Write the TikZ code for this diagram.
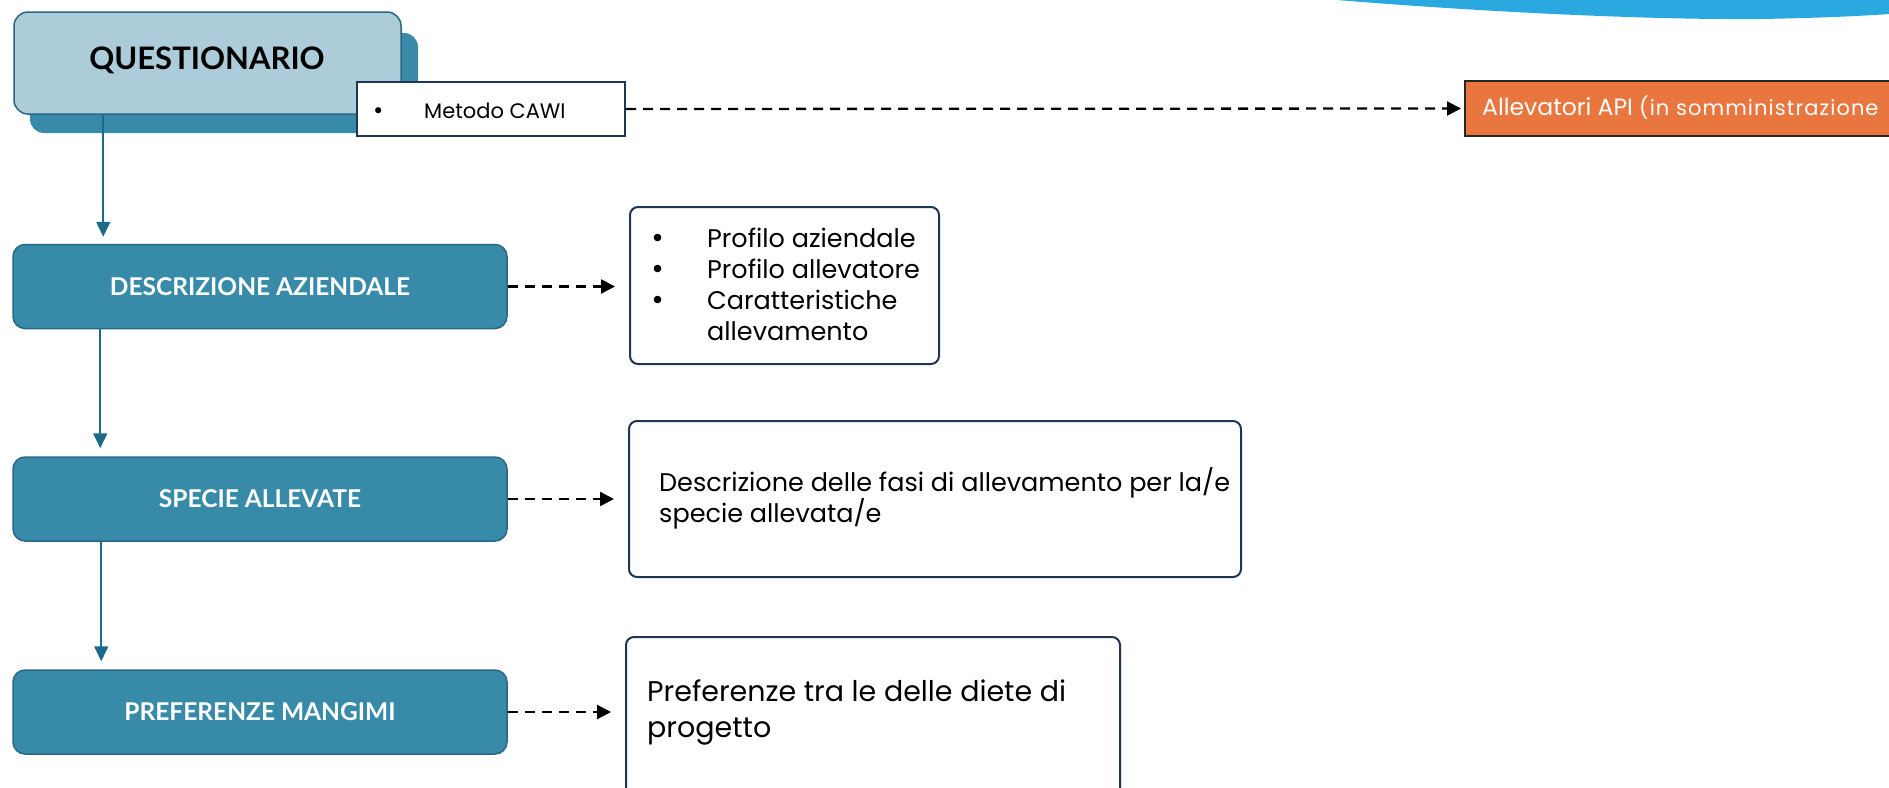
\documentclass[tikz,border=0pt]{standalone}
\usepackage{fontspec}
\setmainfont{Poppins}
\newfontfamily\capsfont{Lato}
\newfontfamily\symfont{DejaVu Sans}
\usetikzlibrary{arrows.meta}
\definecolor{lightbox}{HTML}{ABCCD8}
\definecolor{mainbox}{HTML}{378BA9}
\definecolor{boxedge}{HTML}{2A6786}
\definecolor{arrowblue}{HTML}{1B6A8C}
\definecolor{navy}{HTML}{1F3553}
\definecolor{orangebox}{HTML}{E8763E}
\definecolor{arcblue}{HTML}{29A9E0}
\newcommand{\bul}{{\symfont •}}
\newcommand{\bitem}{\makebox[57pt][l]{\bul}}
\tikzset{
  mainstep/.style={draw=boxedge, line width=1.5pt, fill=mainbox, rounded corners=12pt,
    minimum width=494pt, minimum height=84pt, inner sep=0pt, text=white,
    font=\capsfont\bfseries\fontsize{24.5}{28}\selectfont},
  infobox/.style={draw=navy, line width=2pt, fill=white, rounded corners=8pt, inner sep=0pt,
    anchor=north west},
  vline/.style={draw=arrowblue, line width=1.6pt, -{Triangle[length=15pt,width=14pt]}},
  dline/.style={draw=black, line width=2.3pt, dash pattern=on 10pt off 7pt,
    -{Triangle[length=14pt,width=14pt]}},
  bodytext/.style={font=\fontsize{25.5}{31}\selectfont, text=black},
}
\begin{document}
\begin{tikzpicture}[x=1pt,y=-1pt]
\useasboundingbox (0,0) rectangle (1889,787);
\clip (0,0) rectangle (1889,787);
% top-right arc
\fill[arcblue] (1325,-1) .. controls (1480,12) and (1650,20) .. (1760,19)
  .. controls (1820,18) and (1860,16) .. (1890,14) -- (1890,-1) -- cycle;
% QUESTIONARIO with shadow
\fill[mainbox, rounded corners=14pt] (30,33) rectangle (418,133);
\node[draw=boxedge, line width=1.5pt, fill=lightbox, rounded corners=14pt,
  minimum width=387pt, minimum height=102pt, inner sep=0pt] (q) at (207.5,63) {};
\node[font=\capsfont\bfseries\fontsize{31}{36}\selectfont] (qt) at (207,60) {QUESTIONARIO};
% Metodo CAWI
\node[draw=navy, line width=2pt, fill=white, minimum width=268pt, minimum height=54pt,
  inner sep=0pt] (cawi) at (491,109) {};
\node[anchor=base west, inner sep=0pt, font=\fontsize{21}{24}\selectfont] (cawit) at (372,118)
  {\makebox[52pt][l]{\bul}Metodo CAWI};
% Allevatori API
\node[draw=black!85, line width=2pt, fill=orangebox, minimum width=520pt, minimum height=55pt,
  inner sep=0pt, anchor=west] (api) at (1464,108.5) {};
\node[anchor=west, text=white, inner sep=0pt] (apit) at (1482,108)
  {\fontsize{23.5}{27}\selectfont Allevatori API {\fontsize{21}{24}\selectfont\addfontfeatures{LetterSpace=5}(in somministrazione}};
\draw[dline, shorten >=3pt] (cawi.east) -- (api.west);
% main steps
\node[mainstep] (desc) at (260,286.5) {DESCRIZIONE AZIENDALE};
\node[mainstep] (spec) at (260,499) {SPECIE ALLEVATE};
\node[mainstep] (pref) at (260,712) {PREFERENZE MANGIMI};
% vertical connectors
\draw[vline, shorten >=7pt] ([xshift=90pt]q.south west) -- ([xshift=90pt]q.south west |- desc.north);
\draw[vline, shorten >=8pt] ([xshift=88pt]desc.south west) -- ([xshift=88pt]desc.south west |- spec.north);
\draw[vline, shorten >=8pt] ([xshift=89pt]spec.south west) -- ([xshift=89pt]spec.south west |- pref.north);
% info boxes
\node[infobox, minimum width=309pt, minimum height=157pt] (prof) at (629,206) {};
\node[bodytext, anchor=north west, align=left, inner sep=0pt] (proft) at (650,228)
  {\bitem Profilo aziendale\\\bitem Profilo allevatore\\\bitem Caratteristiche\\\hspace*{57pt}allevamento};
\node[infobox, minimum width=612pt, minimum height=156pt] (descr) at (628,420) {};
\node[bodytext, anchor=north west, align=left, inner sep=0pt] (descrt) at (659,467)
  {Descrizione delle fasi di allevamento per la/e\\specie allevata/e};
\node[infobox, minimum width=494pt, minimum height=180pt] (prefb) at (625,636) {};
\node[anchor=north west, align=left, inner sep=0pt, font=\fontsize{28.5}{36}\selectfont] (preft) at (647,680)
  {Preferenze tra le delle diete di\\progetto};
% dashed connectors
\draw[dline, shorten >=14pt] (desc.east) -- (desc.east -| prof.west);
\draw[dline, shorten >=14pt] (spec.east) -- (spec.east -| descr.west);
\draw[dline, shorten >=14pt] (pref.east) -- (pref.east -| prefb.west);
\end{tikzpicture}
\end{document}
